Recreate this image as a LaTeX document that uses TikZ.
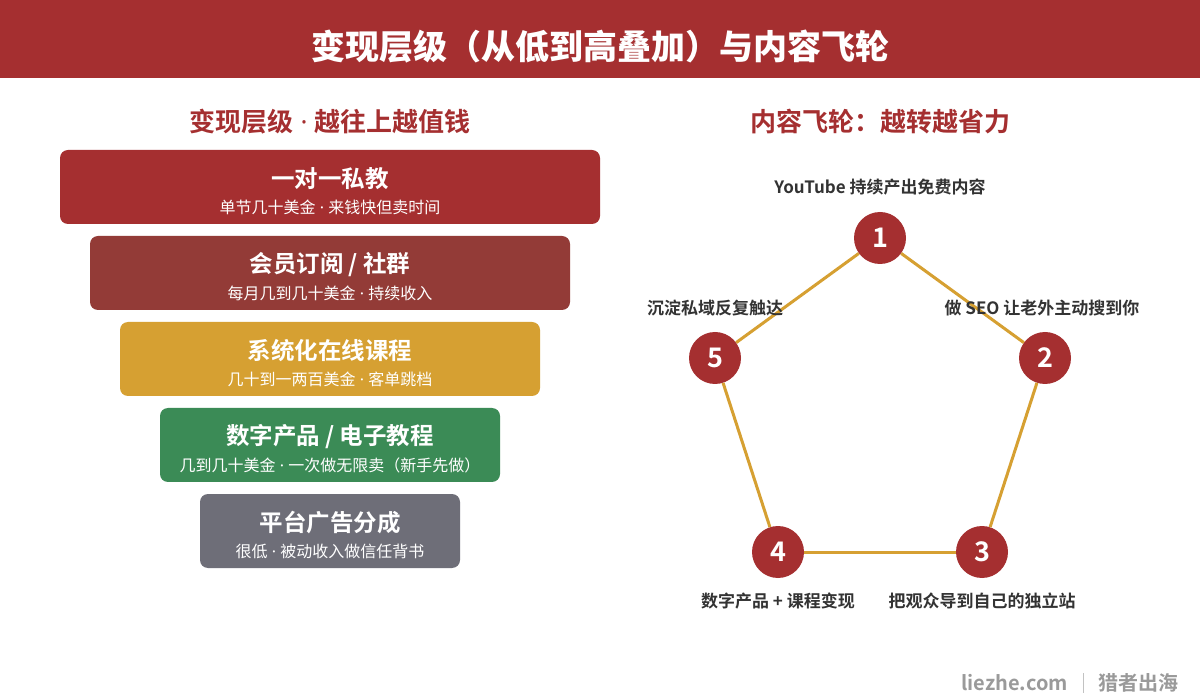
\documentclass[tikz,border=0pt]{standalone}
\usepackage{fontspec}
\setmainfont{Noto Sans CJK SC}[BoldFont={Noto Sans CJK SC Bold}]
\newfontfamily\heavyfont{Noto Sans CJK SC Black}
\newfontfamily\dotfont{Noto Sans}
\newcommand{\sepdot}{{\dotfont\ ·\ }}
\usetikzlibrary{positioning}

\definecolor{brickred}{HTML}{A52F30}
\definecolor{rustred}{HTML}{933B37}
\definecolor{goldbar}{HTML}{D6A032}
\definecolor{greenbar}{HTML}{3B8B56}
\definecolor{graybar}{HTML}{6E6E78}
\definecolor{labelgray}{HTML}{333333}
\definecolor{footgray}{HTML}{9A9A9A}

\begin{document}
\begin{tikzpicture}[
    x=1pt, y=-1pt,
    tier/.style={rectangle, rounded corners=8pt, minimum height=74pt, inner sep=0pt},
    tiertitle/.style={text=white, font=\fontsize{23.5}{27}\selectfont\bfseries},
    tiernote/.style={text=white, font=\fontsize{16}{19}\selectfont},
    heading/.style={text=brickred, font=\fontsize{26}{30}\selectfont\bfseries},
    stage/.style={circle, fill=brickred, minimum size=52pt, inner sep=0pt, text=white, font=\fontsize{27}{31}\selectfont\bfseries},
    stagelabel/.style={text=labelgray, font=\fontsize{17}{20}\selectfont\bfseries, inner sep=0pt},
    ring/.style={draw=goldbar, line width=3pt},
    foottext/.style={text=footgray, font=\fontsize{20}{24}\selectfont\bfseries, anchor=east, inner sep=0pt}
]

% Canvas and header bar
\useasboundingbox (0,0) rectangle (1200,700);
\fill[white] (0,0) rectangle (1200,700);
\fill[brickred] (0,0) rectangle (1200,78);
\node[text=white, font=\fontsize{34}{38}\selectfont\heavyfont] (title) at (600,47) {变现层级（从低到高叠加）与内容飞轮};

% Section headings
\node[heading] (lefthead) at (330,122) {变现层级\sepdot 越往上越值钱};
\node[heading] (righthead) at (880,122) {内容飞轮：越转越省力};

% Define tiers
\node[tier, fill=brickred, minimum width=540pt] (t1) at (330,187) {};
\node[tier, fill=rustred, minimum width=480pt] (t2) at (330,273) {};
\node[tier, fill=goldbar, minimum width=420pt] (t3) at (330,359) {};
\node[tier, fill=greenbar, minimum width=340pt] (t4) at (330,445) {};
\node[tier, fill=graybar, minimum width=260pt] (t5) at (330,531) {};

% Tier texts
\node[tiertitle] (t1a) at ([yshift=8pt]t1.center) {一对一私教};
\node[tiernote] (t1b) at ([yshift=-20pt]t1.center) {单节几十美金\sepdot 来钱快但卖时间};
\node[tiertitle] (t2a) at ([yshift=8pt]t2.center) {会员订阅 / 社群};
\node[tiernote] (t2b) at ([yshift=-20pt]t2.center) {每月几到几十美金\sepdot 持续收入};
\node[tiertitle] (t3a) at ([yshift=8pt]t3.center) {系统化在线课程};
\node[tiernote] (t3b) at ([yshift=-20pt]t3.center) {几十到一两百美金\sepdot 客单跳档};
\node[tiertitle] (t4a) at ([yshift=8pt]t4.center) {数字产品 / 电子教程};
\node[tiernote] (t4b) at ([yshift=-20pt]t4.center) {几到几十美金\sepdot 一次做无限卖（新手先做）};
\node[tiertitle] (t5a) at ([yshift=8pt]t5.center) {平台广告分成};
\node[tiernote] (t5b) at ([yshift=-20pt]t5.center) {很低\sepdot 被动收入做信任背书};

% Define flywheel stages
\node[stage] (s1) at (880,238) {1};
\node[stage] (s2) at (1045,358) {2};
\node[stage] (s3) at (982,552) {3};
\node[stage] (s4) at (778,552) {4};
\node[stage] (s5) at (715,358) {5};

% Define ring edges
\draw[ring] (s1) -- (s2);
\draw[ring] (s2) -- (s3);
\draw[ring] (s3) -- (s4);
\draw[ring] (s4) -- (s5);
\draw[ring] (s5) -- (s1);

% Stage labels
\node[stagelabel, above=16pt of s1] (l1) {YouTube 持续产出免费内容};
\node[stagelabel, above=16pt of s2, xshift=-3pt] (l2) {做 SEO 让老外主动搜到你};
\node[stagelabel, below=14pt of s3] (l3) {把观众导到自己的独立站};
\node[stagelabel, below=14pt of s4] (l4) {数字产品 + 课程变现};
\node[stagelabel, above=16pt of s5] (l5) {沉淀私域反复触达};

% Footer
\node[foottext] (brand) at (1179,683) {猎者出海};
\coordinate (bartop) at (1083,673);
\coordinate (barbot) at (1083,693);
\draw[footgray!60, line width=0.8pt] (bartop) -- (barbot);
\node[foottext] (site) at (1068,683) {liezhe.com};

\end{tikzpicture}
\end{document}
